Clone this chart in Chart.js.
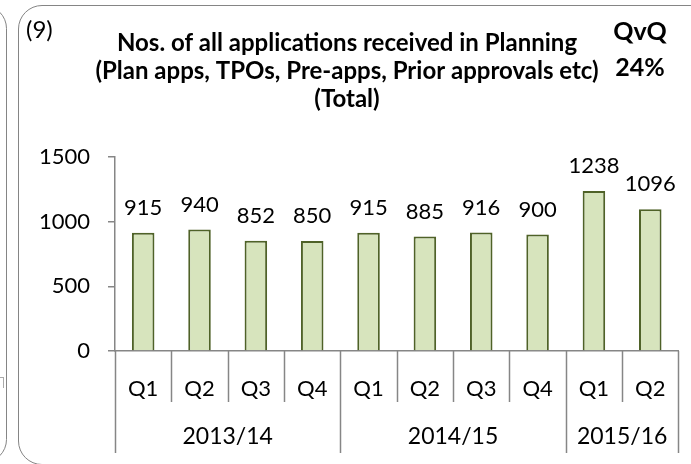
<!DOCTYPE html>
<html>
<head>
<meta charset="utf-8">
<script src="https://cdn.jsdelivr.net/npm/chart.js@4.4.0/dist/chart.umd.min.js"></script>
<style>
    html, body { margin: 0; padding: 0; background: #fff; overflow: hidden; }
    #wrap { position: relative; width: 691px; height: 464px; }
    .frame { position: absolute; border: 1.5px solid #858585; border-radius: 24px; box-sizing: border-box; }
    #chart { position: absolute; left: 0; top: 0; }
</style>
</head>
<body>
<div id="wrap">
    <div class="frame" style="left:-40px; top:5px; width:47px; height:458px;"></div>
    <div class="frame" style="left:18px; top:5px; width:720px; height:460px;"></div>
    <div style="position:absolute; left:-2px; top:377px; width:5px; height:10px; border-top:1px solid #aaa; border-right:1px solid #aaa;"></div>
    <canvas id="chart" width="691" height="464" style="width:691px;height:464px;"></canvas>
</div>
<script>
const quarters = ['Q1', 'Q2', 'Q3', 'Q4', 'Q1', 'Q2', 'Q3', 'Q4', 'Q1', 'Q2'];
const years = ['2013/14', '2014/15', '2015/16'];
const quartersPerYear = [4, 4, 2];
const applications = [915, 940, 852, 850, 915, 885, 916, 900, 1238, 1096];

const titleLines = [
    'Nos. of all applications received in Planning',
    '(Plan apps, TPOs, Pre-apps, Prior approvals etc)',
    '(Total)'
];
const chartNumber = '(9)';
const changeLabel = 'QvQ';
const changeValue = '24%';

const FONT = 'Lato, Carlito, Calibri, sans-serif';
const AXIS_GREY = '#868686';

// draws the title block, value labels and the two-level category axis
const decorations = {
    id: 'decorations',
    afterDraw(chart) {
        const ctx = chart.ctx;
        const x = chart.scales.x;
        const area = chart.chartArea;
        ctx.save();

        // title
        ctx.fillStyle = '#000';
        ctx.textAlign = 'center';
        ctx.textBaseline = 'middle';
        ctx.font = 'bold 24px ' + FONT;
        titleLines.forEach((line, i) => ctx.fillText(line, 347, 43 + i * 28));
        ctx.font = 'bold 25px ' + FONT;
        ctx.fillText(changeLabel, 640, 32);
        ctx.fillText(changeValue, 640, 68);
        ctx.font = '24px ' + FONT;
        ctx.textAlign = 'left';
        ctx.fillText(chartNumber, 26, 30);

        // values above bars
        ctx.textAlign = 'center';
        ctx.font = '22px ' + FONT;
        chart.getDatasetMeta(0).data.forEach((bar, i) => {
            ctx.fillText(String(applications[i]), bar.x, bar.y - 25);
        });

        // separators between categories
        const step = (x.right - x.left) / quarters.length;
        const yearEdges = [0];
        quartersPerYear.reduce((acc, n) => { yearEdges.push(acc + n); return acc + n; }, 0);
        ctx.strokeStyle = AXIS_GREY;
        ctx.lineWidth = 1.5;
        for (let i = 0; i <= quarters.length; i++) {
            const px = Math.round(x.left + i * step) + 0.5;
            const long = yearEdges.includes(i);
            ctx.beginPath();
            ctx.moveTo(px, area.bottom);
            ctx.lineTo(px, long ? area.bottom + 102 : area.bottom + 51);
            ctx.stroke();
        }

        // year labels
        ctx.font = '23px ' + FONT;
        years.forEach((year, i) => {
            const cx = x.left + (yearEdges[i] + yearEdges[i + 1]) / 2 * step;
            ctx.fillText(year, cx, area.bottom + 86);
        });
        ctx.restore();
    }
};

new Chart(document.getElementById('chart'), {
    type: 'bar',
    data: {
        labels: quarters,
        datasets: [{
            data: applications,
            backgroundColor: '#D7E4BD',
            borderColor: '#4F6228',
            borderWidth: 2,
            barPercentage: 0.4,
            categoryPercentage: 1
        }]
    },
    options: {
        responsive: false,
        animation: false,
        layout: { padding: { top: 157, right: 11, left: 0, bottom: 0 } },
        plugins: {
            legend: { display: false },
            tooltip: { enabled: false },
            title: { display: false }
        },
        scales: {
            x: {
                offset: true,
                grid: { display: false, drawTicks: false },
                border: { display: true, color: AXIS_GREY, width: 1.5 },
                ticks: { color: '#000', font: { family: FONT, size: 22 }, padding: 25, maxRotation: 0 },
                afterFit: scale => { scale.height = 113; }
            },
            y: {
                min: 0,
                max: 1500,
                ticks: {
                    stepSize: 500,
                    color: '#000',
                    font: { family: FONT, size: 22 },
                    padding: 18,
                    callback: value => String(value)
                },
                grid: { drawOnChartArea: false, drawTicks: true, tickLength: 7, color: AXIS_GREY, lineWidth: 1.5 },
                border: { display: true, color: AXIS_GREY, width: 1.5 },
                afterFit: scale => { scale.width = 115; }
            }
        }
    },
    plugins: [decorations]
});
</script>
</body>
</html>
